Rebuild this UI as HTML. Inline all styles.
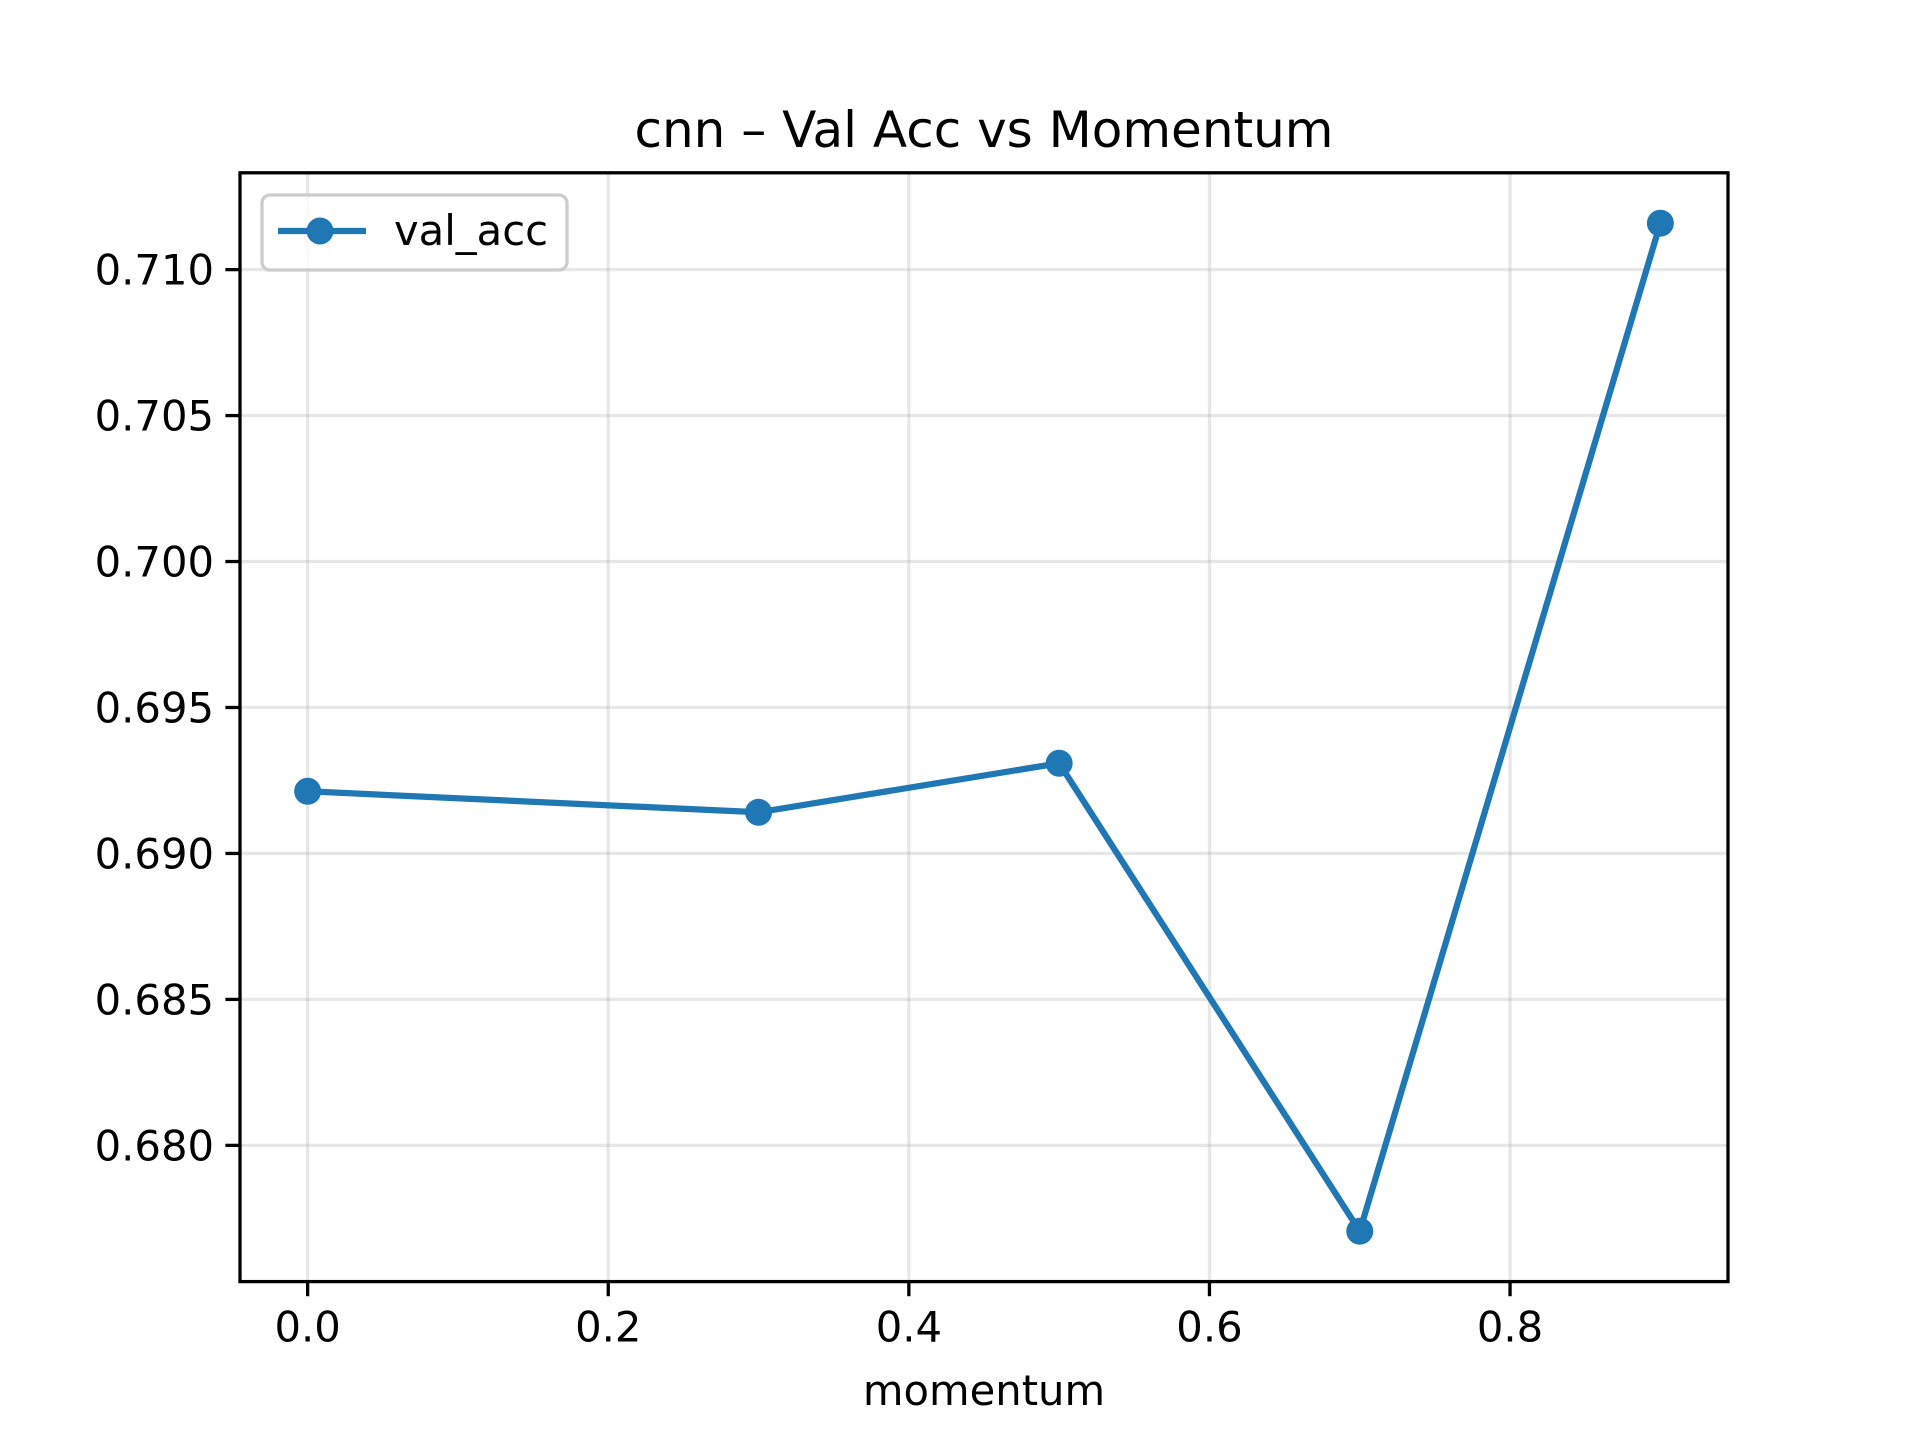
<!DOCTYPE html>
<html><head><meta charset="utf-8"><style>html,body{margin:0;padding:0;background:#fff}svg{display:block}text{font-family:"DejaVu Sans","Liberation Sans",sans-serif;fill:#000}</style></head>
<body>
<svg id="chart" width="1920" height="1440" viewBox="0 0 1920 1440" xmlns="http://www.w3.org/2000/svg">
<rect x="0" y="0" width="1920" height="1440" fill="#fff"/>
<g id="grid"></g>
<g id="series"></g>
<rect x="240" y="172.8" width="1488" height="1108.8" fill="none" stroke="#000" stroke-width="3.3"/>
<g id="ticks"></g>
<text x="984" y="147" font-size="50" text-anchor="middle">cnn – Val Acc vs Momentum</text>
<text x="984" y="1405" font-size="41.7" text-anchor="middle">momentum</text>
<g>
<rect x="262" y="195" width="305" height="75" rx="8" fill="#fff" fill-opacity="0.8" stroke="#ccc" stroke-width="3.3"/>
<line x1="278" y1="231" x2="366" y2="231" stroke="#1f77b4" stroke-width="6.25"/>
<circle cx="320" cy="231" r="13.5" fill="#1f77b4"/>
<text x="394" y="245" font-size="41.7">val_acc</text>
</g>
</svg>
<script>
const xValues=[0.0,0.3,0.5,0.7,0.9];
const valAcc=[0.69213,0.69141,0.69309,0.67706,0.71159];
const xTicks=[0.0,0.2,0.4,0.6,0.8];
const xTickLabels=["0.0","0.2","0.4","0.6","0.8"];
const yTicks=[0.680,0.685,0.690,0.695,0.700,0.705,0.710];
const yTickLabels=["0.680","0.685","0.690","0.695","0.700","0.705","0.710"];
const NS="http://www.w3.org/2000/svg";
const L=240,R=1728,T=172.8,B=1281.6;
const xmn=Math.min(...xValues),xmx=Math.max(...xValues),xm=(xmx-xmn)*0.05;
const ymn=Math.min(...valAcc),ymx=Math.max(...valAcc),ym=(ymx-ymn)*0.05;
const X=v=>L+(v-(xmn-xm))/((xmx+xm)-(xmn-xm))*(R-L);
const Y=v=>B-(v-(ymn-ym))/((ymx+ym)-(ymn-ym))*(B-T);
function mk(tag,attrs,parent){const e=document.createElementNS(NS,tag);for(const k in attrs)e.setAttribute(k,attrs[k]);parent.appendChild(e);return e;}
const grid=document.getElementById('grid'),ticks=document.getElementById('ticks'),series=document.getElementById('series');
xTicks.forEach((t,i)=>{const x=X(t);
 let g=mk('line',{x1:x,y1:T,x2:x,y2:B,stroke:'#b0b0b0','stroke-opacity':0.3,'stroke-width':3.3},grid);
 
 
 let tk=mk('line',{x1:x,y1:B,x2:x,y2:B+14.6,stroke:'#000','stroke-width':3.3},ticks);
 
 
 let tl=mk('text',{x:x,y:B+60,'font-size':41.7,'text-anchor':'middle'},ticks);tl.textContent=xTickLabels[i];
 
 
});
yTicks.forEach((t,i)=>{const y=Y(t);
 let g=mk('line',{x1:L,y1:y,x2:R,y2:y,stroke:'#b0b0b0','stroke-opacity':0.3,'stroke-width':3.3},grid);
 
 
 let tk=mk('line',{x1:L-14.6,y1:y,x2:L,y2:y,stroke:'#000','stroke-width':3.3},ticks);
 
 
 let tl=mk('text',{x:L-26,y:y+15,'font-size':41.7,'text-anchor':'end'},ticks);tl.textContent=yTickLabels[i];
 
 
});
const pts=xValues.map((v,i)=>X(v)+','+Y(valAcc[i])).join(' ');
let pl=mk('polyline',{points:pts,fill:'none',stroke:'#1f77b4','stroke-width':6.25,'stroke-linejoin':'round'},series);


xValues.forEach((v,i)=>{let c=mk('circle',{cx:X(v),cy:Y(valAcc[i]),r:13.5,fill:'#1f77b4'},series);
 
 
});
</script>
</body></html>
